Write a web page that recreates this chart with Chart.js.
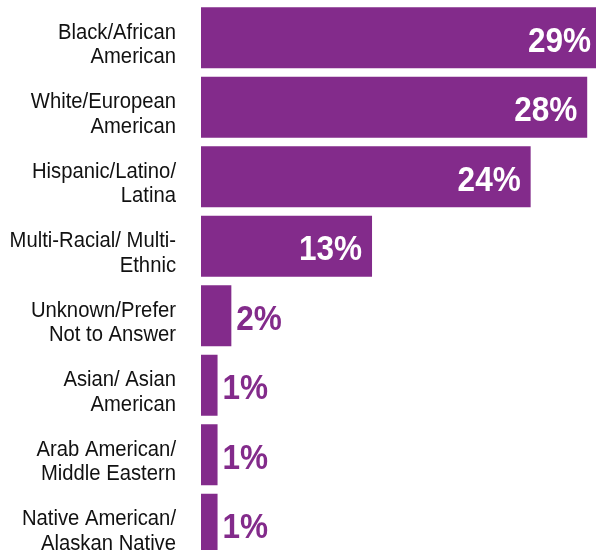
<!DOCTYPE html>
<html>
<head>
<meta charset="utf-8">
<script src="https://cdn.jsdelivr.net/npm/chart.js@4/dist/chart.umd.min.js"></script>
<style>
    html, body { margin: 0; padding: 0; overflow: hidden; background: #fff; }
    #wrap { position: relative; width: 610px; height: 560px; }
</style>
</head>
<body>
<div id="wrap"><canvas id="raceChart"></canvas></div>
<script>
// data
const categories = [
    ['Black/African', 'American'],
    ['White/European', 'American'],
    ['Hispanic/Latino/', 'Latina'],
    ['Multi-Racial/ Multi-', 'Ethnic'],
    ['Unknown/Prefer', 'Not to Answer'],
    ['Asian/ Asian', 'American'],
    ['Arab American/', 'Middle Eastern'],
    ['Native American/', 'Alaskan Native']
];
const shares = [29, 28, 23.9, 12.4, 2.2, 1.2, 1.2, 1.2];
const shareLabels = ['29%', '28%', '24%', '13%', '2%', '1%', '1%', '1%'];

const PURPLE = '#832b8b';
const FONT = '"Liberation Sans", Arial, sans-serif';

// draw text squeezed horizontally to get the condensed look
function condensedText(ctx, text, x, y, squeeze) {
    ctx.save();
    ctx.translate(x, y);
    ctx.scale(squeeze, 1);
    ctx.fillText(text, 0, 0);
    ctx.restore();
}

// category labels (left) and value labels on the bars
const labelsPlugin = {
    id: 'labelsPlugin',
    afterDatasetsDraw(chart) {
        const ctx = chart.ctx;
        const yScale = chart.scales.y;
        const meta = chart.getDatasetMeta(0);
        ctx.save();
        ctx.textBaseline = 'alphabetic';

        // category names
        ctx.font = '22px ' + FONT;
        ctx.fillStyle = '#111111';
        ctx.textAlign = 'right';
        categories.forEach((lines, i) => {
            const y = yScale.getPixelForTick(i);
            lines.forEach((line, j) => {
                condensedText(ctx, line, yScale.right - 25, y + 1 + j * 24.4, 0.92);
            });
        });

        // percentages
        ctx.font = 'bold 35px ' + FONT;
        meta.data.forEach((bar, i) => {
            const inside = shares[i] >= 10;
            ctx.fillStyle = inside ? '#ffffff' : PURPLE;
            ctx.textAlign = inside ? 'right' : 'left';
            const x = inside ? bar.x - 10 : bar.x + 5;
            condensedText(ctx, shareLabels[i], x, bar.y + 14, 0.9);
        });
        ctx.restore();
    }
};

new Chart(document.getElementById('raceChart'), {
    type: 'bar',
    data: {
        labels: categories,
        datasets: [{
            data: shares,
            backgroundColor: PURPLE,
            borderWidth: 0,
            barPercentage: 0.878,
            categoryPercentage: 1
        }]
    },
    options: {
        indexAxis: 'y',
        responsive: true,
        maintainAspectRatio: false,
        animation: false,
        layout: { padding: { top: 3, bottom: 1, right: 9, left: 0 } },
        plugins: {
            legend: { display: false },
            tooltip: { enabled: false }
        },
        scales: {
            x: {
                display: false,
                min: 0,
                max: 29
            },
            y: {
                grid: { display: false, drawTicks: false },
                border: { display: false },
                ticks: { display: false },
                afterFit(scale) {
                    scale.width = 201;
                    scale.paddingTop = 0;
                    scale.paddingBottom = 0;
                }
            }
        }
    },
    plugins: [labelsPlugin]
});
</script>
</body>
</html>
